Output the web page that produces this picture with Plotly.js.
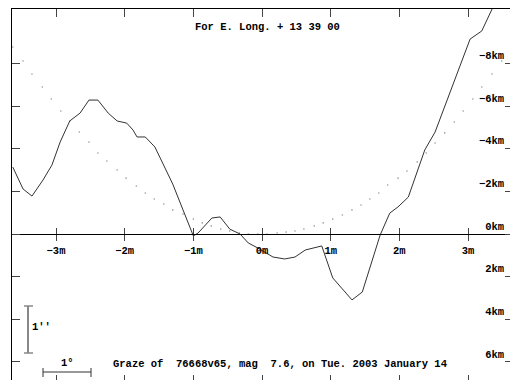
<!DOCTYPE html>
<html>
<head>
<meta charset="utf-8">
<script src="https://cdn.plot.ly/plotly-3.0.1.min.js"></script>
<style>
html,body{margin:0;padding:0;background:#fff;overflow:hidden;}
#chart{width:510px;height:380px;}
</style>
</head>
<body>
<div id="chart"></div>
<script>
// Observed limb profile (minutes of time, km; negative km = north/up)
const limbX = [-3.63,-3.48,-3.35,-3.19,-3.06,-2.94,-2.80,-2.65,-2.52,-2.39,-2.24,-2.11,-1.97,-1.88,-1.82,-1.70,-1.56,-1.41,-1.30,-1.00,-0.93,-0.73,-0.61,-0.47,-0.32,-0.20,-0.06,0.16,0.33,0.48,0.63,0.87,1.03,1.31,1.46,1.72,1.86,1.98,2.13,2.37,2.52,3.03,3.20,3.35];
const limbY = [-3.14,-2.11,-1.78,-2.53,-3.23,-4.31,-5.30,-5.67,-6.28,-6.28,-5.67,-5.30,-5.20,-4.88,-4.55,-4.55,-4.08,-3.05,-2.34,0.09,-0.05,-0.75,-0.80,-0.23,0.00,0.42,0.66,1.08,1.17,1.08,0.75,0.56,2.06,3.09,2.72,0.05,-0.98,-1.27,-1.73,-3.94,-4.78,-9.14,-9.52,-10.55];

// Dotted reference curve
const dotX = [-3.63,-3.48,-3.35,-3.20,-3.07,-2.93,-2.80,-2.66,-2.52,-2.39,-2.26,-2.11,-1.98,-1.83,-1.70,-1.57,-1.43,-1.30,-1.15,-1.00,-0.87,-0.74,-0.60,-0.47,-0.33,-0.20,-0.06,0.07,0.22,0.35,0.48,0.61,0.76,0.89,1.03,1.17,1.31,1.44,1.57,1.70,1.83,1.98,2.11,2.26,2.39,2.52,2.66,2.80,2.93,3.07,3.20,3.35,3.49];
const dotY = [-8.77,-8.11,-7.50,-6.89,-6.33,-5.77,-5.30,-4.78,-4.31,-3.80,-3.42,-3.00,-2.62,-2.25,-1.92,-1.64,-1.41,-1.13,-0.94,-0.70,-0.52,-0.38,-0.23,-0.14,-0.05,0.00,0.00,0.00,-0.05,-0.09,-0.14,-0.23,-0.38,-0.52,-0.70,-0.89,-1.13,-1.36,-1.64,-1.92,-2.30,-2.62,-2.95,-3.38,-3.80,-4.27,-4.74,-5.25,-5.77,-6.33,-6.89,-7.50,-8.11];

// Tick labels
const minTickVals = [-3,-2,-1,0,1,2,3];
const minTickText = ['\u22123m','\u22122m','\u22121m','0m','1m','2m','3m'];
const kmTickVals = [-8,-6,-4,-2,0,2,4,6];
const kmTickText = ['\u22128km','\u22126km','\u22124km','\u22122km','0km','2km','4km','6km'];

const titleText = 'For E. Long. + 13 39 00';
const footText = 'Graze of  76668v65, mag  7.6, on Tue. 2003 January 14';

const W = 510, H = 380, ML = 12, MT = 9, MR = 0, MB = 0;
const xRange = [-3.641, 3.611];
const yRange = [6.845, -10.55];
const zeroPos = (yRange[0] - 0) / (yRange[0] - yRange[1]);

const pxX = p => (p - ML) / (W - ML - MR);
const pxY = p => (H - MB - p) / (H - MT - MB);
const nb = s => s.replace(/ /g, '\u00a0');

const font = {family: '"Liberation Mono", "DejaVu Sans Mono", monospace', size: 10.5, color: '#000', weight: 'bold'};

const traces = [
  {x: dotX, y: dotY, type: 'scatter', mode: 'markers', marker: {size: 1.6, color: '#999'}, hoverinfo: 'skip'},
  {x: limbX, y: limbY, type: 'scatter', mode: 'lines', line: {color: '#333', width: 1}, hoverinfo: 'skip'}
];

const baseX = {range: xRange, showgrid: false, zeroline: false, tickmode: 'array', tickvals: minTickVals, fixedrange: true};

const layout = {
  width: W, height: H,
  margin: {l: ML, r: MR, t: MT, b: MB, pad: 0},
  paper_bgcolor: '#fff', plot_bgcolor: '#fff',
  showlegend: false,
  font: font,
  xaxis: Object.assign({}, baseX, {side: 'top', showline: true, linecolor: '#000', linewidth: 1, ticks: 'inside', ticklen: 8, tickcolor: '#444', showticklabels: false}),
  xaxis2: Object.assign({}, baseX, {overlaying: 'x', side: 'bottom', anchor: 'y', showline: false, ticks: 'inside', ticklen: 5, tickcolor: '#444', showticklabels: false}),
  xaxis3: Object.assign({}, baseX, {overlaying: 'x', anchor: 'free', position: zeroPos, side: 'bottom', showline: true, linecolor: '#000', linewidth: 1, ticks: 'outside', ticklen: 6, tickcolor: '#444', ticktext: minTickText, showticklabels: true, tickfont: font}),
  xaxis4: Object.assign({}, baseX, {overlaying: 'x', anchor: 'free', position: zeroPos, side: 'bottom', showline: false, ticks: 'inside', ticklen: 6, tickcolor: '#444', showticklabels: false}),
  yaxis: {range: yRange, showgrid: false, zeroline: false, side: 'left', showline: true, linecolor: '#000', linewidth: 1, ticks: 'inside', ticklen: 8, tickcolor: '#444', tickmode: 'array', tickvals: kmTickVals, showticklabels: false, fixedrange: true},
  yaxis2: {range: yRange, overlaying: 'y', side: 'right', anchor: 'x', showgrid: false, zeroline: false, showline: false, ticks: 'inside', ticklen: 5, tickcolor: '#444', tickmode: 'array', tickvals: kmTickVals, ticktext: kmTickText, ticklabelposition: 'inside', ticklabelshift: 8, tickfont: font, fixedrange: true},
  annotations: [
    {xref: 'paper', yref: 'paper', x: pxX(193), y: pxY(27), xanchor: 'left', yanchor: 'middle', text: nb(titleText), showarrow: false, font: font},
    {xref: 'paper', yref: 'paper', x: pxX(111), y: pxY(364), xanchor: 'left', yanchor: 'middle', text: nb(footText), showarrow: false, font: font},
    {xref: 'paper', yref: 'paper', x: pxX(30), y: pxY(327), xanchor: 'left', yanchor: 'middle', text: "1''", showarrow: false, font: font},
    {xref: 'paper', yref: 'paper', x: pxX(67), y: pxY(363), xanchor: 'center', yanchor: 'middle', text: '1\u00b0', showarrow: false, font: font}
  ],
  shapes: [
    {type: 'line', xref: 'paper', yref: 'paper', x0: pxX(28), x1: pxX(28), y0: pxY(306), y1: pxY(353), line: {color: '#888', width: 2}},
    {type: 'line', xref: 'paper', yref: 'paper', x0: pxX(24), x1: pxX(33), y0: pxY(306), y1: pxY(306), line: {color: '#888', width: 1.5}},
    {type: 'line', xref: 'paper', yref: 'paper', x0: pxX(24), x1: pxX(33), y0: pxY(353), y1: pxY(353), line: {color: '#888', width: 1.5}},
    {type: 'line', xref: 'paper', yref: 'paper', x0: pxX(43), x1: pxX(91), y0: pxY(372), y1: pxY(372), line: {color: '#333', width: 1}},
    {type: 'line', xref: 'paper', yref: 'paper', x0: pxX(43), x1: pxX(43), y0: pxY(368), y1: pxY(377), line: {color: '#333', width: 1}},
    {type: 'line', xref: 'paper', yref: 'paper', x0: pxX(91), x1: pxX(91), y0: pxY(368), y1: pxY(377), line: {color: '#333', width: 1}}
  ]
};

// attach the extra axes with invisible anchor traces sharing the data scales
traces.push({x: [xRange[0]], y: [yRange[0]], xaxis: 'x2', yaxis: 'y2', mode: 'markers', marker: {opacity: 0}, hoverinfo: 'skip', type: 'scatter'});
traces.push({x: [xRange[0]], y: [yRange[0]], xaxis: 'x3', yaxis: 'y', mode: 'markers', marker: {opacity: 0}, hoverinfo: 'skip', type: 'scatter'});
traces.push({x: [xRange[0]], y: [yRange[0]], xaxis: 'x4', yaxis: 'y', mode: 'markers', marker: {opacity: 0}, hoverinfo: 'skip', type: 'scatter'});

Plotly.newPlot('chart', traces, layout, {staticPlot: true, displayModeBar: false});
</script>
</body>
</html>
